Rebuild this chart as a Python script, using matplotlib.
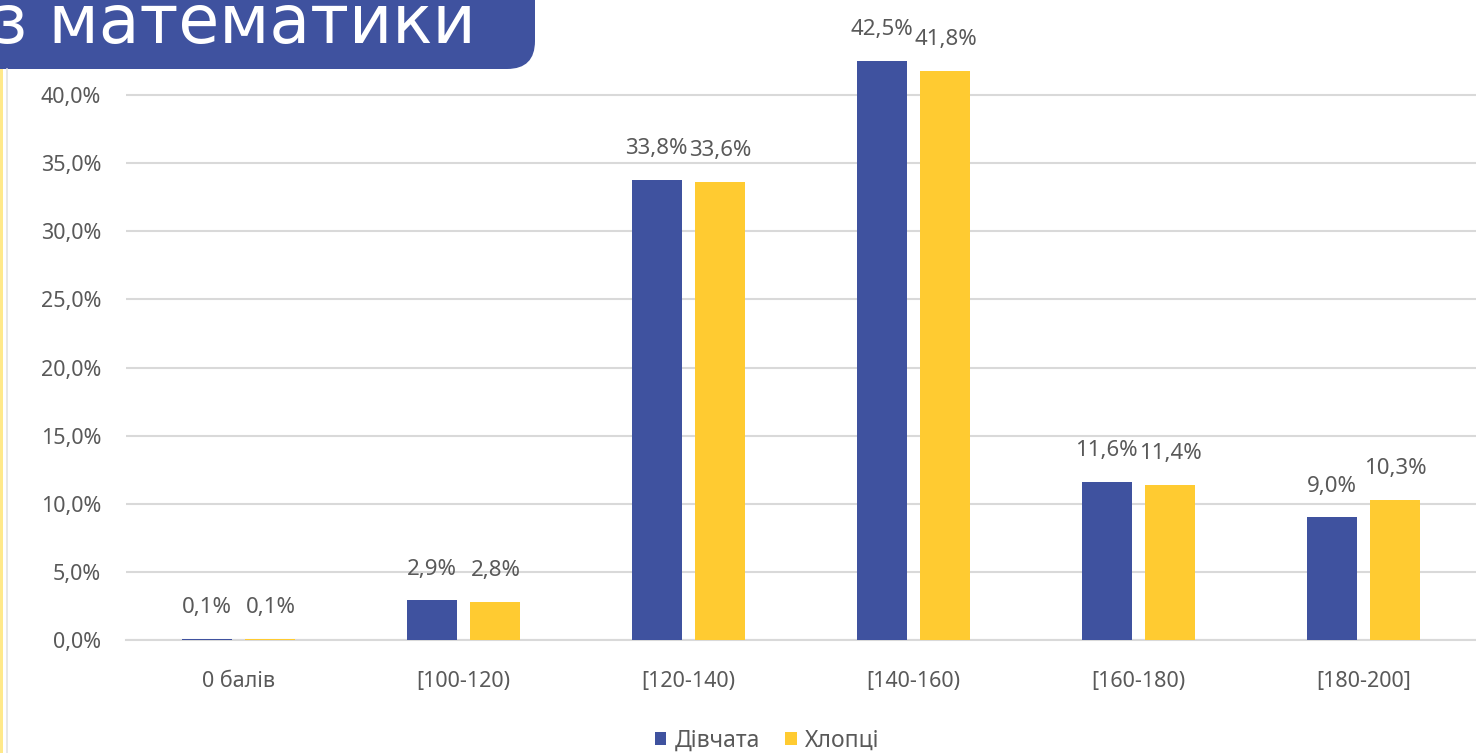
import numpy as np
from matplotlib import pyplot as plt
from matplotlib.patches import FancyBboxPatch, Rectangle

categories = ["0 балів", "[100-120)", "[120-140)", "[140-160)", "[160-180)", "[180-200]"]
girls = [0.1, 2.9, 33.8, 42.5, 11.6, 9.0]
boys = [0.1, 2.8, 33.6, 41.8, 11.4, 10.3]
series_names = ["Дівчата", "Хлопці"]
title_text = "з математики"

BLUE = "#3F529F"
YELLOW = "#FFCB31"
GRAY = "#595959"

plt.rcParams['font.family'] = ['Noto Sans', 'DejaVu Sans']

fig = plt.figure(figsize=(14.76, 7.53), dpi=100)
ax = fig.add_axes([126 / 1476, 113 / 753, 1 - 126 / 1476, (640 - 27) / 753])

x = np.arange(len(categories))
w = 0.222
off = 0.142
b1 = ax.bar(x - off, girls, w, color=BLUE, zorder=3, label=series_names[0])
b2 = ax.bar(x + off, boys, w, color=YELLOW, zorder=3, label=series_names[1])

for bars, vals in ((b1, girls), (b2, boys)):
    for r, v in zip(bars, vals):
        ax.text(r.get_x() + r.get_width() / 2, v + 1.9, f"{v:.1f}%".replace(".", ","),
                ha="center", va="baseline", fontsize=16, color=GRAY, zorder=4)

ax.set_xlim(-0.5, len(categories) - 0.5)
ax.set_ylim(0, 45)
yt = np.arange(0, 45, 5)
ax.set_yticks(yt)
ax.set_yticklabels([f"{t:.1f}%".replace(".", ",") for t in yt])
ax.set_xticks(x)
ax.set_xticklabels(categories)
ax.tick_params(axis="both", length=0, labelsize=15.5, labelcolor=GRAY)
ax.tick_params(axis="y", pad=18)
ax.tick_params(axis="x", pad=22)
ax.grid(axis="y", color="#D9D9D9", lw=1.5, zorder=0)
for s in ["top", "right", "left"]:
    ax.spines[s].set_visible(False)
ax.spines["bottom"].set_color("#D9D9D9")
ax.spines["bottom"].set_linewidth(1.5)

fig.legend(handles=[b1, b2], loc="center", bbox_to_anchor=(767 / 1476, 1 - 741 / 753),
           ncol=2, frameon=False, fontsize=16.5, labelcolor=GRAY,
           handlelength=0.5, handleheight=0.5, handletextpad=0.35, columnspacing=1.1)

# overlay in pixel coordinates: title banner and left edge decoration
ov = fig.add_axes([0, 0, 1, 1])
ov.set_xlim(0, 1476)
ov.set_ylim(753, 0)
ov.axis("off")
ov.add_patch(FancyBboxPatch((-60, -60), 595, 129, boxstyle="round,pad=0,rounding_size=28",
                            fc=BLUE, ec="none"))
ov.text(-8, 43, title_text, color="white", fontsize=48, ha="left", va="baseline",
        family=["DejaVu Sans"])
ov.add_patch(Rectangle((0, 69), 3, 700, fc="#FFE98A", ec="none"))
ov.plot([7, 7], [69, 753], color="#E3E3E3", lw=1.2)

fig.savefig("out.png", dpi=100)
